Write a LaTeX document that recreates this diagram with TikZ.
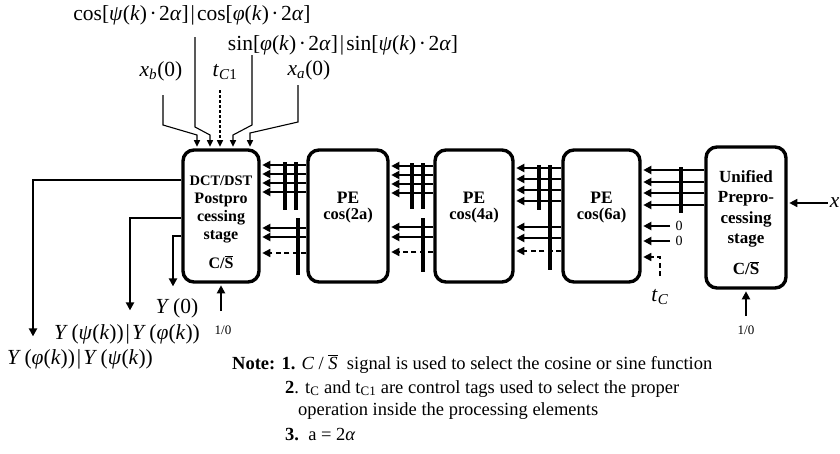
\documentclass[tikz,border=0pt]{standalone}
\usepackage{fontspec}
\setmainfont{Liberation Serif}
\usetikzlibrary{arrows.meta}
\newcommand{\I}[1]{\textit{#1}}
\newcommand{\Sbar}{$\overline{\hbox{S}}$}
\newcommand{\md}{\kern2.5pt·\kern2.5pt}
\newcommand{\vb}{\kern2pt|\kern2pt}
\begin{document}
\begin{tikzpicture}[x=1pt,y=-1pt,
  box/.style={draw, line width=3.4pt, rounded corners=11pt, inner sep=0pt},
  tip/.style={-{Triangle[length=8pt,width=8pt]}},
  arr/.style={line width=2.3pt, tip, shorten >=1.6pt},
  darr/.style={line width=1.6pt, dash pattern=on 5pt off 3.5pt, tip, shorten >=1.6pt},
  bar/.style={line width=4pt},
  inl/.style={line width=1.1pt, -{Triangle[length=6.5pt,width=6pt]}, shorten >=1.6pt},
  btxt/.style={font=\fontsize{16}{18}\selectfont\bfseries, align=center, inner sep=0pt},
  utxt/.style={font=\fontsize{17}{20.5}\selectfont\bfseries, align=center, inner sep=0pt},
  petxt/.style={font=\fontsize{17.5}{20}\selectfont\bfseries, inner sep=0pt},
  cstxt/.style={font=\fontsize{16.5}{19}\selectfont\bfseries, inner sep=0pt},
  lbl/.style={font=\fontsize{21.5}{24}\selectfont, inner sep=0pt},
  small/.style={font=\fontsize{13}{15}\selectfont, inner sep=0pt},
  zero/.style={font=\fontsize{14}{15}\selectfont, inner sep=0pt},
  note/.style={font=\fontsize{18.5}{22}\selectfont, inner sep=0pt},
]
\useasboundingbox (0,0) rectangle (840,453);

% boxes
\node[box, minimum width=76pt, minimum height=132pt] (post) at (221,216) {};
\node[box, minimum width=80pt, minimum height=132pt] (pe1) at (348,216) {};
\node[box, minimum width=78pt, minimum height=132pt] (pe2) at (474,216) {};
\node[box, minimum width=77pt, minimum height=132pt] (pe3) at (601.5,216) {};
\node[box, minimum width=80pt, minimum height=141pt] (uni) at (746,217.5) {};

% box texts
\node[btxt] (postT) at (221,209) {{\fontsize{14.5}{18}\selectfont DCT/DST}\\Postpro\\cessing\\stage};
\node[btxt] (postC) at (221,262) {C/\Sbar};
\node[petxt] (pe1a) at (348,198) {PE};
\node[cstxt] (pe1b) at (348,216) {cos(2a)};
\node[petxt] (pe2a) at (474,198) {PE};
\node[cstxt] (pe2b) at (474,216) {cos(4a)};
\node[petxt] (pe3a) at (601.5,198) {PE};
\node[cstxt] (pe3b) at (601.5,216) {cos(6a)};
\node[utxt] (uniT) at (746,209) {Unified\\Prepro-\\cessing\\stage};
\node[utxt] (uniC) at (746,268) {C/\Sbar};

% PE1 -> post
\foreach \y in {165,174,183,192,228,237}
  \draw[arr] (pe1.west |- 0,\y) -- (post.east |- 0,\y);
\draw[darr] (pe1.west |- 0,253) -- (post.east |- 0,253);
\draw[bar] (285,162) -- (285,210);
\draw[bar] (296,162) -- (296,210);
\draw[bar] (298,218) -- (298,275);

% PE2 -> PE1
\foreach \y in {166,175,184,193,227,237}
  \draw[arr] (pe2.west |- 0,\y) -- (pe1.east |- 0,\y);
\draw[darr] (pe2.west |- 0,252) -- (pe1.east |- 0,252);
\draw[bar] (412,163) -- (412,209);
\draw[bar] (423,163) -- (423,209);
\draw[bar] (423,218) -- (423,272);

% PE3 -> PE2
\foreach \y in {168,179,190,201,227,238}
  \draw[arr] (pe3.west |- 0,\y) -- (pe2.east |- 0,\y);
\draw[darr] (pe3.west |- 0,251) -- (pe2.east |- 0,251);
\draw[bar] (539,165) -- (539,210);
\draw[bar] (550,165) -- (550,270);

% Unified -> PE3
\foreach \y in {170,182,193,205}
  \draw[arr] (uni.west |- 0,\y) -- (pe3.east |- 0,\y);
\draw[bar] (681,167) -- (681,213);
\coordinate (z1) at (670,226);
\coordinate (z2) at (670,241);
\draw[arr] (z1) -- (pe3.east |- z1);
\draw[arr] (z2) -- (pe3.east |- z2);
\node[zero] (z1l) at (679,226) {0};
\node[zero] (z2l) at (679,241) {0};
\node[lbl] (tc) at (660,297) {\I{t}\textsubscript{\I{C}}};
\draw[darr] (tc.north |- 0,276) -- (tc.north |- 0,257) -- (pe3.east |- 0,257);

% x input
\node[lbl, anchor=east] (xin) at (839.5,203) {\I{x}};
\draw[arr, line width=1.5pt] (xin.west) ++(-2,0) -- (uni.east |- 0,203);

% 1/0 inputs
\draw[arr] (post.south |- 0,311) -- (post.south);
\node[small] (p10) at (223,330) {1/0};
\draw[arr] (uni.south |- 0,316) -- (uni.south);
\node[small] (u10) at (746,330) {1/0};

% outputs of post
\draw[arr] (post.west |- 0,180) -- (33,180) -- (33,338);
\draw[arr] (post.west |- 0,218) -- (130,218) -- (130,312);
\draw[arr] (post.west |- 0,236) -- (173,236) -- (173,288);
\node[lbl] (y0) at (177,308) {\I{Y}\,(0)};
\node[lbl] (ypsi) at (127,334) {\I{Y}\,(\I{ψ}(\I{k}))\vb\I{Y}\,(\I{φ}(\I{k}))};
\node[lbl] (yphi) at (80,359) {\I{Y}\,(\I{φ}(\I{k}))\vb\I{Y}\,(\I{ψ}(\I{k}))};

% top labels
\node[lbl] (coslbl) at (192,15) {cos[\I{ψ}(\I{k})\md2\I{α}]\vb cos[\I{φ}(\I{k})\md2\I{α}]};
\node[lbl] (sinlbl) at (343,45) {sin[\I{φ}(\I{k})\md2\I{α}]\vb sin[\I{ψ}(\I{k})\md2\I{α}]};
\node[lbl] (xb) at (161,71) {\I{x}\textsubscript{\I{b}}(0)};
\node[lbl] (tc1) at (225,72) {\I{t}\textsubscript{\I{C}1}};
\node[lbl] (xa) at (309,70) {\I{x}\textsubscript{\I{a}}(0)};

% top inputs
\draw[inl] (163,95) -- (163,125) -- (197,135) -- (post.north -| 197,0);
\draw[inl] (195,37) -- (195,127) -- (210,135) -- (post.north -| 210,0);
\draw[inl, dash pattern=on 3pt off 2pt] (220,90) -- (post.north -| 220,0);
\draw[inl] (252,55) -- (252,125) -- (233,135) -- (post.north -| 233,0);
\draw[inl] (298,85) -- (298,122) -- (250,133) -- (post.north -| 250,0);

% note
\node[note, anchor=base west] (n1) at (232,369) {\textbf{Note: 1.} \I{C} / \I{\Sbar}\ \ signal is used to select the cosine or sine function};
\node[note, anchor=base west] (n2) at (285,393) {\textbf{2}. t\textsubscript{C} and t\textsubscript{C1} are control tags used to select the proper};
\node[note, anchor=base west] (n3) at (298,415) {operation inside the processing elements};
\node[note, anchor=base west] (n4) at (285,440) {\textbf{3.}\ \ a = 2\I{α}};
\end{tikzpicture}
\end{document}
